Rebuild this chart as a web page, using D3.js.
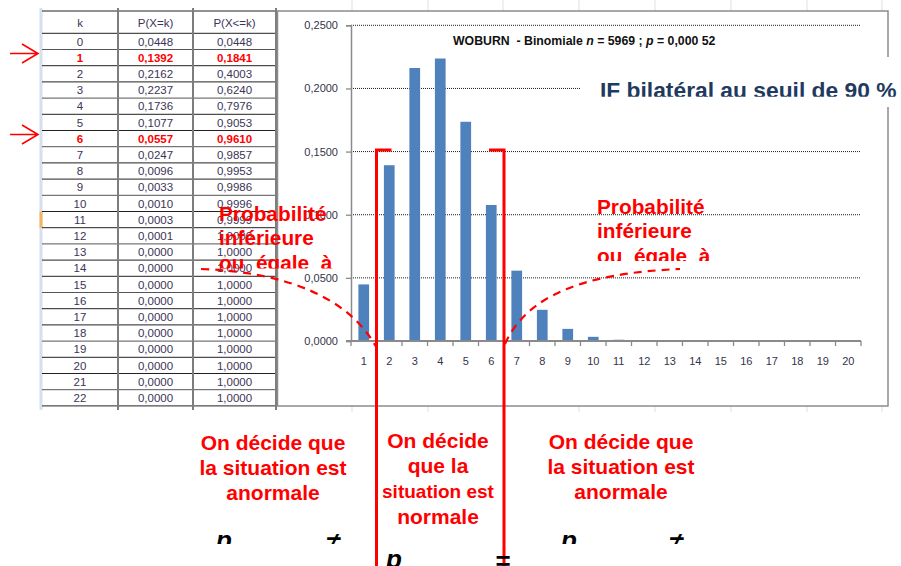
<!DOCTYPE html>
<html>
<head>
<meta charset="utf-8">
<script src="https://cdn.jsdelivr.net/npm/d3@7"></script>
<style>
  html, body { margin: 0; padding: 0; background: #fff; }
  svg { display: block; font-family: "Liberation Sans", Arial, sans-serif; }
  .pre { white-space: pre; }
</style>
</head>
<body>
<svg id="chart" width="901" height="566"></svg>
<script>
// ---- data -------------------------------------------------------------
const kValues = [0, 1, 2, 3, 4, 5, 6, 7, 8, 9, 10, 11, 12, 13, 14, 15, 16, 17, 18, 19, 20, 21, 22];
const probExact = [0.0448, 0.1392, 0.2162, 0.2237, 0.1736, 0.1077, 0.0557, 0.0247, 0.0096, 0.0033,
                   0.0010, 0.0003, 0.0001, 0.0000, 0.0000, 0.0000, 0.0000, 0.0000, 0.0000, 0.0000,
                   0.0000, 0.0000, 0.0000];
const probCumul = [0.0448, 0.1841, 0.4003, 0.6240, 0.7976, 0.9053, 0.9610, 0.9857, 0.9953, 0.9986,
                   0.9996, 0.9999, 1.0000, 1.0000, 1.0000, 1.0000, 1.0000, 1.0000, 1.0000, 1.0000,
                   1.0000, 1.0000, 1.0000];
const tableHeaders = ["k", "P(X=k)", "P(X<=k)"];
const flaggedK = [1, 6];
const barLabels = ["1", "2", "3", "4", "5", "6", "7", "8", "9", "10",
                   "11", "12", "13", "14", "15", "16", "17", "18", "19", "20"];
// the chart series is the P(X=k) column, one bar per category
const barValues = probExact.slice(0, barLabels.length);
const yTicks = [0, 0.05, 0.10, 0.15, 0.20, 0.25];

const RED = "#ff0000";
const fr = d3.formatLocale({ decimal: ",", thousands: " ", grouping: [3], currency: ["", ""] });
const f4 = fr.format(".4f");

const svg = d3.select("#chart");
const defs = svg.append("defs");
function clipRect(id, x, y, w, h) {
  defs.append("clipPath").attr("id", id).append("rect")
    .attr("x", x).attr("y", y).attr("width", w).attr("height", h);
}

// ---- spreadsheet background grid stubs ---------------------------------
const sheetCols = [352, 428, 503, 579, 655, 731, 807, 882];
svg.append("g").selectAll("line").data(sheetCols).join("line")
  .attr("x1", d => d).attr("x2", d => d).attr("y1", 0).attr("y2", 11)
  .attr("stroke", "#dcdfe4").attr("stroke-width", 1);
svg.append("g").selectAll("line").data(sheetCols).join("line")
  .attr("x1", d => d).attr("x2", d => d).attr("y1", 406).attr("y2", 412)
  .attr("stroke", "#dcdfe4").attr("stroke-width", 1);

// ---- table ------------------------------------------------------------
const colX = [42, 118, 193, 276];
const headTop = 11, headBottom = 33.3, rowH = 16.2;
const rowTop = i => headBottom + i * rowH;
const tableBottom = rowTop(kValues.length);
const colCenter = i => (colX[i] + colX[i + 1]) / 2;
const tbl = svg.append("g");

// row-header strip of the sheet
tbl.append("rect").attr("x", 39.5).attr("y", 8).attr("width", 3).attr("height", tableBottom - 8 + 4)
  .attr("fill", "#d5e0ee");
tbl.append("rect").attr("x", 39.5).attr("y", rowTop(11)).attr("width", 3).attr("height", rowH)
  .attr("fill", "#f4b35f");

// horizontal rules
const hLines = [headTop, headBottom].concat(kValues.map((k, i) => rowTop(i + 1)));
tbl.selectAll("line.h").data(hLines).join("line").attr("class", "h")
  .attr("x1", 42).attr("x2", colX[3]).attr("y1", d => d).attr("y2", d => d)
  .attr("stroke", (d, i) => i % 3 === 2 ? "#555" : "#222").attr("stroke-width", 1);
// vertical rules
tbl.selectAll("line.v").data(colX.slice(1)).join("line").attr("class", "v")
  .attr("x1", d => d).attr("x2", d => d).attr("y1", 8).attr("y2", tableBottom + 4)
  .attr("stroke", "#7d7d7d").attr("stroke-width", 2);

tbl.selectAll("text.hd").data(tableHeaders).join("text").attr("class", "hd")
  .attr("x", (d, i) => colCenter(i)).attr("y", headTop + 16)
  .attr("text-anchor", "middle").attr("font-size", 11.5).attr("fill", "#3b3456")
  .text(d => d);

const rows = tbl.selectAll("g.row").data(kValues).join("g").attr("class", "row");
rows.each(function (k, i) {
  const flagged = flaggedK.includes(k);
  const cells = [String(k), f4(probExact[i]), f4(probCumul[i])];
  d3.select(this).selectAll("text").data(cells).join("text")
    .attr("x", (d, j) => colCenter(j)).attr("y", rowTop(i) + 12.3)
    .attr("text-anchor", "middle").attr("font-size", 11.5)
    .attr("font-weight", flagged ? "bold" : "normal")
    .attr("fill", flagged ? RED : "#3b3456")
    .text(d => d);
});

// arrows pointing at the flagged rows
const arrows = svg.append("g").attr("stroke", RED).attr("stroke-width", 1.6).attr("fill", "none");
flaggedK.forEach(k => {
  const y = rowTop(k) + 4;
  arrows.append("path").attr("d", `M10,${y}H38M22,${y - 9.5}L38,${y}L22,${y + 9.5}`);
});

// ---- chart ------------------------------------------------------------
svg.append("rect").attr("x", 277.5).attr("y", 11).attr("width", 610.5).attr("height", 395)
  .attr("fill", "#fff").attr("stroke", "#8c8c8c").attr("stroke-width", 1.5);

const plot = { left: 351, right: 861, top: 25.3, bottom: 341 };
const x = d3.scaleBand().domain(barLabels).range([plot.left, plot.right]).padding(0);
const y = d3.scaleLinear().domain([0, 0.25]).range([plot.bottom, plot.top]);

// dotted gridlines
svg.append("g").selectAll("line").data(yTicks.filter(v => v > 0)).join("line")
  .attr("x1", plot.left).attr("x2", plot.right)
  .attr("y1", d => y(d)).attr("y2", d => y(d))
  .attr("stroke", "#1a1a1a").attr("stroke-width", 1).attr("stroke-dasharray", "1,1");

// bars
const barW = x.bandwidth() * 0.42;
svg.append("g").selectAll("rect").data(barValues).join("rect")
  .attr("x", (d, i) => x(barLabels[i]) + (x.bandwidth() - barW) / 2)
  .attr("y", d => y(d)).attr("width", barW).attr("height", d => y(0) - y(d))
  .attr("fill", "#4f81bd");

// value axis
const yAxis = svg.append("g").attr("transform", `translate(${plot.left},0)`)
  .call(d3.axisLeft(y).tickValues(yTicks).tickFormat(f4).tickSize(5).tickPadding(8));
yAxis.select(".domain").attr("stroke", "#8a8a8a").attr("stroke-width", 1.5);
yAxis.selectAll(".tick line").attr("stroke", "#8a8a8a").attr("stroke-width", 1.3);
yAxis.selectAll(".tick text").attr("font-size", 11).attr("fill", "#34344a")
  .attr("font-family", "'Liberation Sans', Arial, sans-serif");

// category axis: labels centred in bands, ticks on band boundaries
const xAxis = svg.append("g").attr("transform", `translate(0,${plot.bottom})`)
  .call(d3.axisBottom(x).tickSize(0).tickPadding(16));
xAxis.select(".domain").remove();
xAxis.selectAll(".tick text").attr("font-size", 11).attr("fill", "#34344a")
  .attr("font-family", "'Liberation Sans', Arial, sans-serif");
const bounds = barLabels.map(l => x(l)).concat([plot.right]);
svg.append("g").selectAll("line").data(bounds).join("line")
  .attr("x1", d => d).attr("x2", d => d).attr("y1", plot.bottom).attr("y2", plot.bottom + 5)
  .attr("stroke", "#8a8a8a").attr("stroke-width", 1.3);
svg.append("line").attr("x1", plot.left - 5).attr("x2", plot.right)
  .attr("y1", plot.bottom).attr("y2", plot.bottom)
  .attr("stroke", "#8a8a8a").attr("stroke-width", 2);

// title
const title = svg.append("text").attr("class", "pre").attr("x", 453).attr("y", 45)
  .attr("font-size", 12.3).attr("font-weight", "bold").attr("fill", "#111");
title.append("tspan").text("WOBURN  - Binomiale ");
title.append("tspan").attr("font-style", "italic").text("n");
title.append("tspan").text(" = 5969 ; ");
title.append("tspan").attr("font-style", "italic").text("p");
title.append("tspan").text(" = 0,000 52");

// ---- overlay annotations ---------------------------------------------
svg.append("rect").attr("x", 580).attr("y", 57).attr("width", 321).attr("height", 50).attr("fill", "#fff");
clipRect("clipIF", 560, 60, 341, 36.8);
svg.append("text").attr("x", 600).attr("y", 98).attr("clip-path", "url(#clipIF)")
  .attr("font-size", 22.8).attr("font-weight", "bold").attr("fill", "#1f3a5f")
  .text("IF bilatéral au seuil de 90 %");

// interval brackets on the category boundaries
const xL = x("2"), xR = x("7"), bracketTop = 150;
const br = svg.append("g").attr("stroke", RED).attr("stroke-width", 3).attr("fill", "none");
br.append("path").attr("d", `M${xL + 15},${bracketTop}H${xL}V566`);
br.append("path").attr("d", `M${xR - 15},${bracketTop}H${xR}V566`);

// dashed leaders from the side captions to the tails
const dash = svg.append("g").attr("stroke", RED).attr("stroke-width", 2.2).attr("fill", "none")
  .attr("stroke-dasharray", "8,6");
dash.append("path").attr("d", `M201,269 C290,272 350,300 ${xL - 1},${plot.bottom + 5}`);
dash.append("path").attr("d", `M${xR + 1},${plot.bottom + 3} C527,295 585,273 680,269`);

function caption(lines, xPos, baselines, size, anchor, clipId) {
  const g = svg.append("g");
  if (clipId) g.attr("clip-path", `url(#${clipId})`);
  lines.forEach((t, i) => {
    g.append("text").attr("class", "pre").attr("x", xPos).attr("y", baselines[i])
      .attr("text-anchor", anchor).attr("font-size", Array.isArray(size) ? size[i] : size)
      .attr("font-weight", "bold").attr("fill", RED).text(t);
  });
}
const probLines = ["Probabilité", "inférieure", "ou  égale  à"];
clipRect("clipPL", 150, 150, 250, 118.5);
caption(probLines, 219, [220.5, 244.5, 269.5], 20.8, "start", "clipPL");
clipRect("clipPR", 560, 150, 250, 111);
caption(probLines, 597, [213.5, 237.5, 262.5], 20.8, "start", "clipPR");

const outside = ["On décide que", "la situation est", "anormale"];
caption(outside, 273, [449.5, 474.5, 499.5], 21, "middle");
caption(outside, 621, [448.5, 473.5, 498.5], 21, "middle");
caption(["On décide", "que la", "situation est", "normale"], 438,
        [448, 473, 498, 523.5], [21, 21, 19, 21], "middle");

// hypothesis symbols, partly cut off by the page edge
clipRect("clipSym", 150, 500, 700, 44);
const sym = svg.append("g").attr("clip-path", "url(#clipSym)").attr("font-weight", "bold")
  .attr("font-size", 26).attr("fill", "#000");
[[216, 334], [561, 677]].forEach(([px, nx]) => {
  sym.append("text").attr("x", px).attr("y", 548.5).attr("font-style", "italic").text("p");
  sym.append("text").attr("x", nx).attr("y", 551).attr("text-anchor", "middle").text("≠");
});
const mid = svg.append("g").attr("font-weight", "bold").attr("font-size", 26).attr("fill", "#000");
mid.append("text").attr("x", 386).attr("y", 568).attr("font-style", "italic").text("p");
mid.append("text").attr("x", 503).attr("y", 570).attr("text-anchor", "middle").text("=");
</script>
</body>
</html>
